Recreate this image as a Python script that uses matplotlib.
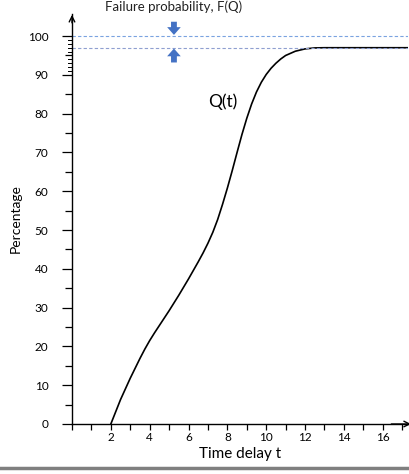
import matplotlib.pyplot as plt
from matplotlib.lines import Line2D
from matplotlib.ticker import MultipleLocator, FixedLocator

plt.rcParams['font.family'] = ['Lato', 'DejaVu Sans']

# Q(t) curve
t = [2.0, 2.5, 3.0, 3.5, 3.75, 4.0, 4.25, 4.5, 5.0, 5.5, 6.0, 6.5, 6.75, 7.0,
     7.25, 7.5, 7.75, 8.0, 8.25, 8.5, 8.75, 9.0, 9.25, 9.5, 9.75, 10.0,
     10.25, 10.5, 10.75, 11.0, 11.5, 12.0, 12.5, 13.0, 14.0, 15.0, 16.0, 17.3]
q = [0.0, 6.3, 11.8, 16.9, 19.3, 21.5, 23.5, 25.4, 29.2, 33.2, 37.4, 41.8,
     44.1, 46.6, 49.4, 52.7, 56.6, 60.8, 65.3, 70.0, 74.6, 78.8, 82.5, 85.6,
     88.1, 90.1, 91.7, 93.0, 94.1, 95.0, 96.1, 96.7, 96.95, 97.0, 97.0, 97.0,
     97.0, 97.0]

limits = [100, 97]          # dashed reference lines
x_labels = [2, 4, 6, 8, 10, 12, 14, 16]
y_labels = [0, 10, 20, 30, 40, 50, 60, 70, 80, 90, 100]

fig = plt.figure(figsize=(4.1, 4.74), dpi=100)
ax = fig.add_axes([0.1756, 0.1055, 0.8194, 0.865])
xmax, ymax = 17.3, 105.7
ax.set_xlim(0, xmax)
ax.set_ylim(0, ymax)

ax.plot(t, q, color='black', lw=1.2)

for v, c in zip(limits, ['#7aa3e0', '#8f9fd0']):
    ax.axhline(v, color=c, lw=0.8, ls=(0, (3, 2)))

blue = '#4472C4'
arrow = 'simple,head_width=0.7,head_length=0.4,tail_width=0.3'
ax.annotate('', xy=(5.25, 100.3), xytext=(5.25, 103.7),
            arrowprops=dict(arrowstyle=arrow, color=blue, lw=0,
                            mutation_scale=14, shrinkA=0, shrinkB=0))
ax.annotate('', xy=(5.25, 96.8), xytext=(5.25, 93.2),
            arrowprops=dict(arrowstyle=arrow, color=blue, lw=0,
                            mutation_scale=14, shrinkA=0, shrinkB=0))
ax.text(5.25, 107.6, 'Failure probability, F(Q)', ha='center', va='center',
        fontsize=9.5, color='#222222', clip_on=False)
ax.text(7.75, 83, 'Q(t)', ha='center', va='center', fontsize=12.5)

for s in ['top', 'right']:
    ax.spines[s].set_visible(False)
for s in ['left', 'bottom']:
    ax.spines[s].set_linewidth(1.0)

# axis arrow heads
ax.annotate('', xy=(0, ymax + 0.5), xytext=(0, ymax - 3),
            arrowprops=dict(arrowstyle='->', lw=1.0, color='black'),
            annotation_clip=False)
ax.annotate('', xy=(xmax + 0.3, 0), xytext=(xmax - 1, 0),
            arrowprops=dict(arrowstyle='->', lw=1.0, color='black'),
            annotation_clip=False)

ax.xaxis.set_major_locator(FixedLocator(x_labels))
ax.xaxis.set_minor_locator(MultipleLocator(1))
ax.yaxis.set_major_locator(FixedLocator(y_labels))
ax.yaxis.set_minor_locator(FixedLocator([5, 15, 25, 35, 45, 55, 65, 75, 85, 95]))
ax.tick_params(axis='x', which='both', direction='out', length=4, width=0.9,
               labelsize=8.5, pad=2)
ax.tick_params(axis='y', which='major', direction='out', length=7, width=0.9,
               labelsize=8.5, pad=10)
ax.tick_params(axis='y', which='minor', direction='out', length=5, width=0.9)

# small extra ticks between 90 and 100
for v in [91, 92, 93, 94, 96, 97, 98, 99]:
    ax.plot([-0.2, 0], [v, v], color='black', lw=0.7, clip_on=False)

ax.set_xlabel('Time delay t', fontsize=11, labelpad=3)
ax.set_ylabel('Percentage', fontsize=10, labelpad=4)

fig.add_artist(Line2D([0, 1], [0.0127, 0.0127], transform=fig.transFigure,
                      color='#7f7f7f', lw=2.5))

fig.savefig('out.png', dpi=100)
